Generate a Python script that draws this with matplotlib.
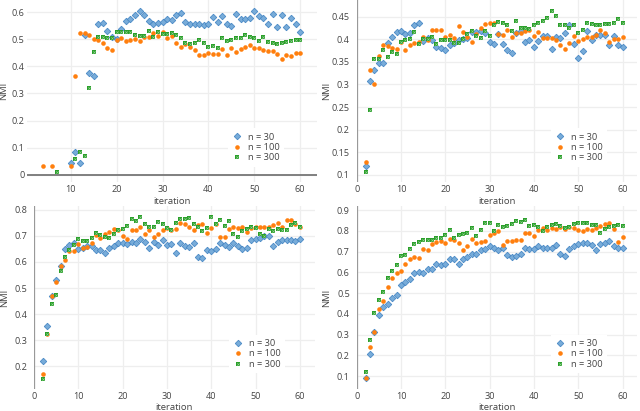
import matplotlib.pyplot as plt
from matplotlib.ticker import FuncFormatter, MultipleLocator

plt.rcParams['font.family'] = ['Open Sans', 'DejaVu Sans']

# x positions (iterations)
tl_x30 = list(range(10, 61))
tl_x100 = [4, 6] + list(range(10, 61))
tl_x300 = [7] + list(range(11, 61))
it = list(range(2, 61))

# top left panel
tl_30 = [0.043, 0.082, 0.043, 0.514, 0.376, 0.365, 0.557, 0.561, 0.53, 0.507, 0.501,
         0.537, 0.567, 0.575, 0.588, 0.604, 0.588, 0.566, 0.555, 0.56, 0.564,
         0.573, 0.572, 0.59, 0.596, 0.562, 0.556, 0.556, 0.556, 0.553, 0.557,
         0.582, 0.565, 0.587, 0.558, 0.549, 0.593, 0.575, 0.573, 0.577, 0.604,
         0.586, 0.579, 0.555, 0.592, 0.546, 0.589, 0.545, 0.579, 0.555, 0.528]
tl_100 = [0.031, 0.031,
          0.033, 0.365, 0.524, 0.523, 0.514, 0.501, 0.498, 0.486, 0.469, 0.462, 0.496,
          0.504, 0.494, 0.496, 0.502, 0.493, 0.507, 0.507, 0.523, 0.512, 0.528,
          0.506, 0.511, 0.488, 0.473, 0.483, 0.473, 0.459, 0.442, 0.442, 0.451,
          0.447, 0.447, 0.464, 0.442, 0.468, 0.454, 0.464, 0.473, 0.478, 0.469,
          0.467, 0.459, 0.458, 0.458, 0.446, 0.428, 0.443, 0.437, 0.451, 0.45]
tl_300 = [0.011,
          0.058, 0.082, 0.07, 0.319, 0.454, 0.51, 0.51, 0.504, 0.503, 0.527,
          0.527, 0.526, 0.526, 0.515, 0.512, 0.512, 0.529, 0.507, 0.528, 0.521,
          0.521, 0.523, 0.516, 0.506, 0.488, 0.483, 0.488, 0.496, 0.486, 0.471,
          0.475, 0.469, 0.503, 0.493, 0.496, 0.503, 0.506, 0.514, 0.507, 0.505,
          0.494, 0.508, 0.491, 0.488, 0.484, 0.486, 0.491, 0.493, 0.496, 0.498]

# top right panel
tr_30 = [0.12, 0.308, 0.331, 0.348, 0.348, 0.391, 0.405, 0.416, 0.418,
         0.412, 0.414, 0.432, 0.436, 0.397, 0.403, 0.399, 0.383, 0.381, 0.376,
         0.387, 0.392, 0.398, 0.401, 0.403, 0.416, 0.416, 0.418, 0.413, 0.393,
         0.389, 0.412, 0.389, 0.377, 0.369, 0.415, 0.418, 0.393, 0.398, 0.384,
         0.396, 0.407, 0.407, 0.378, 0.404, 0.402, 0.415, 0.431, 0.39, 0.358,
         0.373, 0.419, 0.398, 0.41, 0.409, 0.41, 0.387, 0.407, 0.387, 0.383]
tr_100 = [0.128, 0.333, 0.301, 0.364, 0.388, 0.386, 0.38, 0.378, 0.393,
          0.376, 0.388, 0.391, 0.395, 0.404, 0.399, 0.42, 0.42, 0.42, 0.404,
          0.41, 0.402, 0.43, 0.416, 0.406, 0.393, 0.412, 0.425, 0.433, 0.437,
          0.437, 0.411, 0.409, 0.421, 0.404, 0.415, 0.415, 0.418, 0.421, 0.407,
          0.417, 0.402, 0.402, 0.402, 0.398, 0.388, 0.378, 0.391, 0.408, 0.396,
          0.4, 0.404, 0.406, 0.41, 0.421, 0.415, 0.393, 0.4, 0.401, 0.404]
tr_300 = [0.106, 0.244, 0.356, 0.356, 0.377, 0.361, 0.371, 0.367, 0.395,
          0.399, 0.401, 0.417, 0.39, 0.4, 0.4, 0.406, 0.39, 0.398, 0.398,
          0.398, 0.392, 0.392, 0.4, 0.412, 0.418, 0.408, 0.402, 0.418, 0.407,
          0.431, 0.438, 0.437, 0.431, 0.418, 0.44, 0.426, 0.424, 0.422, 0.432,
          0.435, 0.441, 0.448, 0.462, 0.452, 0.432, 0.431, 0.425, 0.431, 0.415,
          0.421, 0.437, 0.433, 0.431, 0.432, 0.433, 0.433, 0.437, 0.444, 0.437]

# bottom left panel
bl_30 = [0.222, 0.354, 0.468, 0.532, 0.584, 0.648, 0.663, 0.671, 0.648,
         0.654, 0.661, 0.661, 0.645, 0.645, 0.634, 0.652, 0.662, 0.672, 0.671,
         0.668, 0.677, 0.674, 0.689, 0.677, 0.653, 0.676, 0.663, 0.685, 0.665,
         0.668, 0.635, 0.674, 0.662, 0.658, 0.672, 0.62, 0.616, 0.644, 0.643,
         0.649, 0.672, 0.666, 0.658, 0.672, 0.661, 0.648, 0.653, 0.683, 0.686,
         0.692, 0.699, 0.699, 0.662, 0.676, 0.683, 0.685, 0.683, 0.681, 0.689]
bl_100 = [0.172, 0.324, 0.468, 0.523, 0.584, 0.609, 0.643, 0.643, 0.67,
          0.653, 0.658, 0.671, 0.703, 0.692, 0.706, 0.716, 0.726, 0.721, 0.699,
          0.689, 0.722, 0.721, 0.735, 0.707, 0.721, 0.697, 0.705, 0.722, 0.728,
          0.721, 0.725, 0.75, 0.744, 0.735, 0.722, 0.742, 0.746, 0.71, 0.73,
          0.744, 0.694, 0.697, 0.724, 0.734, 0.728, 0.733, 0.716, 0.729, 0.732,
          0.734, 0.733, 0.735, 0.743, 0.747, 0.733, 0.761, 0.761, 0.744, 0.734]
bl_300 = [0.151, 0.324, 0.438, 0.473, 0.567, 0.618, 0.647, 0.665, 0.686,
          0.679, 0.679, 0.692, 0.711, 0.702, 0.696, 0.692, 0.706, 0.721, 0.724,
          0.739, 0.766, 0.757, 0.773, 0.746, 0.735, 0.733, 0.751, 0.744, 0.729,
          0.722, 0.748, 0.766, 0.764, 0.768, 0.746, 0.735, 0.717, 0.728, 0.773,
          0.744, 0.762, 0.738, 0.757, 0.705, 0.696, 0.72, 0.725, 0.733, 0.728,
          0.706, 0.701, 0.725, 0.717, 0.724, 0.722, 0.721, 0.743, 0.748, 0.733]

# bottom right panel
br_30 = [0.091, 0.207, 0.314, 0.393, 0.431, 0.446, 0.478, 0.489, 0.538,
         0.552, 0.566, 0.598, 0.602, 0.598, 0.618, 0.615, 0.64, 0.635, 0.64,
         0.664, 0.664, 0.64, 0.665, 0.673, 0.687, 0.691, 0.709, 0.711, 0.728,
         0.72, 0.709, 0.72, 0.683, 0.673, 0.68, 0.691, 0.717, 0.713, 0.714,
         0.728, 0.716, 0.716, 0.717, 0.731, 0.691, 0.678, 0.713, 0.727, 0.736,
         0.743, 0.741, 0.733, 0.706, 0.739, 0.741, 0.752, 0.727, 0.717, 0.72]
br_100 = [0.091, 0.242, 0.313, 0.424, 0.462, 0.528, 0.574, 0.599, 0.607,
          0.639, 0.667, 0.676, 0.67, 0.714, 0.708, 0.736, 0.749, 0.75, 0.741,
          0.76, 0.754, 0.741, 0.709, 0.727, 0.761, 0.744, 0.747, 0.752, 0.78,
          0.788, 0.799, 0.733, 0.752, 0.752, 0.758, 0.755, 0.79, 0.79, 0.774,
          0.806, 0.813, 0.807, 0.813, 0.809, 0.821, 0.81, 0.818, 0.812, 0.804,
          0.802, 0.809, 0.806, 0.813, 0.823, 0.834, 0.837, 0.81, 0.747, 0.769]
br_300 = [0.122, 0.272, 0.406, 0.465, 0.505, 0.574, 0.607, 0.635, 0.68,
          0.686, 0.713, 0.738, 0.746, 0.757, 0.757, 0.754, 0.766, 0.765, 0.78,
          0.806, 0.768, 0.78, 0.787, 0.791, 0.812, 0.776, 0.806, 0.837, 0.837,
          0.798, 0.828, 0.818, 0.823, 0.834, 0.846, 0.842, 0.853, 0.823, 0.829,
          0.817, 0.798, 0.821, 0.828, 0.832, 0.826, 0.813, 0.818, 0.834, 0.837,
          0.839, 0.837, 0.829, 0.829, 0.788, 0.81, 0.821, 0.823, 0.829, 0.823]

labels = ['n = 30', 'n = 100', 'n = 300']

W, H = 640, 411
fig = plt.figure(figsize=(W / 100, H / 100), dpi=100)

def px_axes(left, right, top, bottom):
    return fig.add_axes([left / W, 1 - bottom / H, (right - left) / W, (bottom - top) / H])

fmt = FuncFormatter(lambda v, p: '{:g}'.format(round(v, 3)))
txt = '#444444'

def panel(ax, xs, ys, xlim, ylim, ystep, ylab_x, ypad, zero_y=False):
    x30, x100, x300 = xs
    y30, y100, y300 = ys
    ax.plot(x30, y30, 'D', ms=3.3, mfc='#78acd9', mec='#4a8ac6', mew=0.6, label=labels[0], zorder=3)
    ax.plot(x100, y100, 'o', ms=3.3, mfc='#ff7f0e', mec='#ff7f0e', mew=0, label=labels[1], zorder=3)
    sq, = ax.plot(x300, y300, 's', ms=3.2, mfc='#2ca02c', mec='#2ca02c', mew=0, zorder=3)
    cr, = ax.plot(x300, y300, 'x', ms=1.7, mec='#8fcf8f', mew=0.45, zorder=4)
    ax.set_xlim(*xlim)
    ax.set_ylim(*ylim)
    ax.xaxis.set_major_locator(MultipleLocator(10))
    ax.yaxis.set_major_locator(MultipleLocator(ystep))
    ax.xaxis.set_major_formatter(fmt)
    ax.yaxis.set_major_formatter(fmt)
    ax.grid(True, color='#eeeeee', lw=0.9, zorder=0)
    ax.set_axisbelow(True)
    for s in ax.spines.values():
        s.set_visible(False)
    ax.tick_params(length=0, labelsize=6.6, colors=txt)
    ax.tick_params(axis='y', pad=ypad)
    ax.tick_params(axis='x', pad=2.5)
    if zero_y:
        ax.axhline(0, color='#777777', lw=1.3, zorder=2)
    else:
        ax.axvline(0, color='#999999', lw=1.6, zorder=2)
    ax.set_xlabel('iteration', fontsize=6.8, color=txt, va='center')
    ax.xaxis.set_label_coords(0.5, -0.105)
    ax.set_ylabel('NMI', fontsize=6.8, color=txt, va='center')
    ax.yaxis.set_label_coords(ylab_x, 0.5)
    h, l = ax.get_legend_handles_labels()
    leg = ax.legend(h + [(sq, cr)], l + [labels[2]], loc='lower left',
                    bbox_to_anchor=(0.695, 0.085), fontsize=6.7, frameon=True,
                    facecolor='white', edgecolor='none', framealpha=1, fancybox=False,
                    borderpad=0.45, labelspacing=0.15, handlelength=1.0,
                    handletextpad=0.7, borderaxespad=0)
    for t in leg.get_texts():
        t.set_color(txt)

ax = px_axes(26.7, 316.7, 0, 182)
panel(ax, (tl_x30, tl_x100, tl_x300), (tl_30, tl_100, tl_300),
      (0.4, 63.6), (-0.027, 0.645), 0.1, -0.078, 1.5, zero_y=True)

ax = px_axes(356.7, 636.7, 0, 182)
panel(ax, (it, it, it), (tr_30, tr_100, tr_300),
      (0, 63.2), (0.084, 0.487), 0.05, -0.107, 5)

ax = px_axes(34, 315, 206.5, 388.5)
panel(ax, (it, it, it), (bl_30, bl_100, bl_300),
      (0, 63.4), (0.1155, 0.812), 0.1, -0.103, 5)

ax = px_axes(356.7, 636.7, 206.5, 388.5)
panel(ax, (it, it, it), (br_30, br_100, br_300),
      (0, 63.2), (0.04, 0.918), 0.1, -0.107, 5)

fig.savefig('out.png', dpi=100)
